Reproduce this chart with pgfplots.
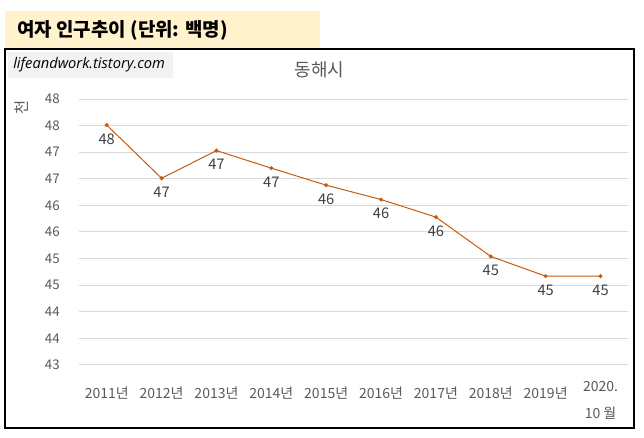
\documentclass[border=0pt]{standalone}
\usepackage{fontspec}
\setmainfont{Noto Sans CJK KR}
\newfontfamily\latinfont{Open Sans}
\usepackage{pgfplots}
\pgfplotsset{compat=1.18}
\definecolor{linec}{HTML}{C55A11}
\definecolor{tickc}{HTML}{595959}
\definecolor{labc}{HTML}{404040}
\definecolor{gridc}{HTML}{D9D9D9}
\definecolor{titlebg}{HTML}{FFF2CC}
\definecolor{webbg}{HTML}{F2F2F2}
\begin{document}
\begin{tikzpicture}[x=0.75pt,y=0.75pt]
\path[use as bounding box] (0,0) rectangle (644,438);
% title box
\fill[titlebg] (5,438-49) rectangle (320,438-11);
\node[anchor=west, inner sep=0pt, font=\fontsize{14.2}{17}\selectfont\bfseries] at (17,438-30) {여자 인구추이 (단위: 백명)};
% chart border
\draw[black, line width=1pt] (5,438-428) rectangle (634,438-49);
% web box
\fill[webbg] (8,438-78) rectangle (173,438-52);
\node[anchor=west, inner sep=0pt, font=\latinfont\itshape\fontsize{11}{13}\selectfont] at (13,438-65) {lifeandwork.tistory.com};
% chart title
\node[text=tickc, inner sep=0pt, font=\fontsize{13.5}{16}\selectfont] at (319.5,438-70) {동해시};
% unit
\node[text=tickc, inner sep=0pt, rotate=90, font=\fontsize{11.5}{13}\selectfont] at (22,438-107) {천};
\begin{axis}[
  at={(59.475pt,54.75pt)}, anchor=south west,
  scale only axis, width=411.5pt, height=199.5pt,
  xmin=-0.5, xmax=9.5, ymin=43, ymax=48,
  axis line style={draw=none},
  major tick length=0pt,
  ytick={43,43.5,...,48.01},
  yticklabels={43,44,44,45,45,46,46,47,47,48,48},
  xtick={0,...,8},
  xticklabels={2011년,2012년,2013년,2014년,2015년,2016년,2017년,2018년,2019년},
  extra x ticks={9},
  extra x tick labels={{2020.\\[8pt]10 월}},
  extra x tick style={xticklabel style={yshift=4pt}},
  ymajorgrids, grid style={gridc, line width=0.75pt},
  yticklabel style={anchor=east, inner sep=0pt, xshift=-14.5pt, text=tickc, font=\fontsize{10}{12}\selectfont},
  xticklabel style={anchor=north, inner sep=0pt, yshift=-16pt, text=tickc, align=center, font=\fontsize{10.5}{12}\selectfont},
  clip=false,
  point meta=explicit symbolic,
  nodes near coords,
  nodes near coords style={anchor=north, inner sep=0pt, yshift=-6pt, text=labc, font=\fontsize{11}{13}\selectfont},
]
\addplot[linec, line width=0.75pt, mark=*, mark size=1.1pt, mark options={linec}] coordinates {
(0,47.51) [48]
(1,46.51) [47]
(2,47.03) [47]
(3,46.70) [47]
(4,46.38) [46]
(5,46.11) [46]
(6,45.78) [46]
(7,45.04) [45]
(8,44.67) [45]
(9,44.67) [45]
};
\end{axis}
\end{tikzpicture}
\end{document}
